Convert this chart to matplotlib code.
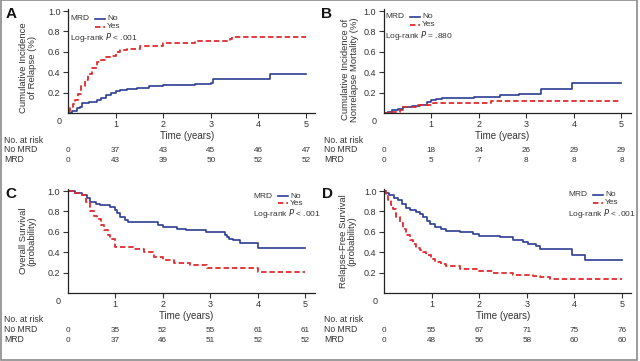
import matplotlib
matplotlib.use("Agg")
import matplotlib.pyplot as plt
from matplotlib.lines import Line2D
from matplotlib.patches import Rectangle
import matplotlib.transforms as mtransforms

plt.rcParams['font.family'] = ['Liberation Sans Narrow', 'Liberation Sans', 'DejaVu Sans']
plt.rcParams['mathtext.fontset'] = 'custom'
plt.rcParams['mathtext.it'] = 'Liberation Sans Narrow:italic'
plt.rcParams['mathtext.rm'] = 'Liberation Sans Narrow'

# ---- data ----
years = [0, 1, 2, 3, 4, 5]

A_no_t = [0, 0.08, 0.18, 0.25, 0.29, 0.45, 0.6, 0.7, 0.8, 0.9, 1.0, 1.1, 1.25, 1.45, 1.7, 2.0, 2.67, 3.0, 3.05, 4.25, 5.0]
A_no_y = [0, 0.02, 0.05, 0.06, 0.10, 0.11, 0.13, 0.15, 0.18, 0.20, 0.22, 0.23, 0.24, 0.25, 0.26, 0.27, 0.28, 0.29, 0.33, 0.38, 0.38]
A_yes_t = [0, 0.05, 0.1, 0.14, 0.2, 0.28, 0.35, 0.42, 0.5, 0.6, 0.7, 0.8, 0.88, 1.0, 1.1, 1.25, 1.52, 2.0, 2.67, 3.0, 3.4, 3.45, 5.0]
A_yes_y = [0.02, 0.05, 0.09, 0.13, 0.19, 0.26, 0.32, 0.38, 0.44, 0.50, 0.52, 0.55, 0.56, 0.60, 0.62, 0.63, 0.66, 0.69, 0.71, 0.71, 0.73, 0.75, 0.75]

B_no_t = [0, 0.1, 0.18, 0.3, 0.42, 0.6, 0.77, 0.91, 1.0, 1.1, 1.23, 1.9, 2.45, 2.85, 3.3, 3.97, 5.0]
B_no_y = [0, 0.01, 0.03, 0.04, 0.06, 0.07, 0.08, 0.11, 0.13, 0.14, 0.15, 0.16, 0.18, 0.19, 0.24, 0.295, 0.295]
B_yes_t = [0, 0.1, 0.35, 0.42, 0.7, 1.05, 2.25, 5.0]
B_yes_y = [0, 0.01, 0.03, 0.06, 0.08, 0.10, 0.12, 0.12]

C_no_t = [0, 0.15, 0.3, 0.4, 0.48, 0.6, 0.69, 0.9, 1.0, 1.05, 1.11, 1.2, 1.28, 1.9, 2.0, 2.3, 2.5, 2.9, 3.3, 3.35, 3.4, 3.48, 3.62, 4.0, 5.0]
C_no_y = [1.0, 0.98, 0.96, 0.93, 0.89, 0.87, 0.86, 0.84, 0.81, 0.78, 0.75, 0.72, 0.70, 0.67, 0.65, 0.63, 0.615, 0.60, 0.57, 0.55, 0.53, 0.515, 0.49, 0.44, 0.44]
C_yes_t = [0, 0.15, 0.3, 0.38, 0.48, 0.55, 0.62, 0.7, 0.76, 0.85, 0.9, 1.0, 1.39, 1.6, 1.81, 2.0, 2.23, 2.58, 2.93, 4.0, 5.0]
C_yes_y = [1.0, 0.98, 0.96, 0.89, 0.80, 0.76, 0.73, 0.67, 0.615, 0.57, 0.53, 0.45, 0.43, 0.40, 0.35, 0.32, 0.29, 0.27, 0.25, 0.21, 0.21]

D_no_t = [0, 0.05, 0.1, 0.2, 0.29, 0.38, 0.47, 0.55, 0.68, 0.75, 0.82, 0.9, 0.96, 1.07, 1.2, 1.31, 1.59, 1.87, 2.0, 2.44, 2.72, 2.93, 3.03, 3.2, 3.28, 3.95, 4.22, 5.0]
D_no_y = [1.0, 0.98, 0.96, 0.93, 0.91, 0.87, 0.83, 0.81, 0.79, 0.77, 0.75, 0.71, 0.68, 0.645, 0.63, 0.61, 0.60, 0.58, 0.56, 0.55, 0.52, 0.50, 0.48, 0.46, 0.43, 0.37, 0.32, 0.32]
D_yes_t = [0, 0.04, 0.08, 0.14, 0.19, 0.26, 0.33, 0.4, 0.47, 0.54, 0.61, 0.68, 0.75, 0.82, 0.89, 0.98, 1.07, 1.2, 1.31, 1.59, 2.0, 2.3, 2.72, 3.14, 3.28, 3.49, 5.0]
D_yes_y = [1.0, 0.96, 0.91, 0.86, 0.82, 0.75, 0.69, 0.63, 0.57, 0.52, 0.48, 0.44, 0.42, 0.40, 0.37, 0.33, 0.30, 0.28, 0.26, 0.24, 0.22, 0.20, 0.18, 0.17, 0.16, 0.14, 0.14]

A_risk_no = [0, 37, 43, 45, 46, 47]
A_risk_mrd = [0, 43, 39, 50, 52, 52]
B_risk_no = [0, 18, 24, 26, 29, 29]
B_risk_mrd = [0, 5, 7, 8, 8, 8]
C_risk_no = [0, 35, 52, 55, 61, 61]
C_risk_mrd = [0, 37, 46, 51, 52, 52]
D_risk_no = [0, 55, 67, 71, 75, 76]
D_risk_mrd = [0, 48, 56, 58, 60, 60]

ylabels = ["Cumulative Incidence\nof Relapse (%)",
           "Cumulative Incidence of\nNonrelapse Mortality (%)",
           "Overall Survival\n(probability)",
           "Relapse-Free Survival\n(probability)"]
pvals = ["< .001", "= .880", "< .001", "< .001"]
letters = ["A", "B", "C", "D"]

BLUE = "#2c3e92"
RED = "#e02a2e"
TXT = "#333333"
W, H = 640, 361

fig = plt.figure(figsize=(6.4, 3.61), dpi=100)

def fx(px):
    return px / W

def fy(py):
    return 1 - py / H

# axes boxes in pixels: left edge, x-axis row
AX_W = 247
AX_H = 104
boxes = [(68, 113), (383.5, 113), (67.5, 293), (384, 293)]
curves = [(A_no_t, A_no_y, A_yes_t, A_yes_y), (B_no_t, B_no_y, B_yes_t, B_yes_y),
          (C_no_t, C_no_y, C_yes_t, C_yes_y), (D_no_t, D_no_y, D_yes_t, D_yes_y)]
risks = [(A_risk_no, A_risk_mrd), (B_risk_no, B_risk_mrd),
         (C_risk_no, C_risk_mrd), (D_risk_no, D_risk_mrd)]
ylab_x = [-0.125, -0.10, -0.125, -0.11]
ylab_y = [0.44, 0.42, 0.5, 0.5]
# legend anchor (pixel x of "MRD", pixel y of first row)
legend_pos = [(70, 19), (385, 17), (253, 196), (568, 195)]

for i in range(4):
    left, base = boxes[i]
    ax = fig.add_axes([fx(left), fy(base), AX_W / W, AX_H / H])
    nt, ny, yt, yy = curves[i]
    ax.plot(nt, ny, drawstyle='steps-post', color=BLUE, lw=1.2)
    ax.plot(yt, yy, drawstyle='steps-post', color=RED, lw=1.3, dashes=(3, 1.6))
    ax.set_xlim(0, 5.19)
    ax.set_ylim(0, 1.02)
    ax.set_xticks([1, 2, 3, 4, 5])
    ax.set_yticks([0.2, 0.4, 0.6, 0.8, 1.0])
    ax.set_yticklabels(["0.2", "0.4", "0.6", "0.8", "1.0"])
    ax.tick_params(labelsize=6.5, colors=TXT, length=3.5, width=0.8, pad=2)
    ax.tick_params(axis='x', pad=1.5)
    for s in ['top', 'right']:
        ax.spines[s].set_visible(False)
    for s in ['left', 'bottom']:
        ax.spines[s].set_linewidth(0.9)
        ax.spines[s].set_color("#222222")
    ax.annotate("0", xy=(0, 0), xycoords='data', xytext=(-6.5, -6.3),
                textcoords='offset points', ha='center', va='center',
                fontsize=6.5, color=TXT)
    ax.set_ylabel(ylabels[i], fontsize=6.8, color=TXT, linespacing=1.0)
    ax.yaxis.set_label_coords(ylab_x[i], ylab_y[i])
    trans = mtransforms.blended_transform_factory(ax.transData, ax.transAxes)
    ax.text(2.5, -0.225, "Time (years)", transform=trans, ha='center', va='center',
            fontsize=7, color=TXT)
    r_no, r_mrd = risks[i]
    for x, a, b in zip(years, r_no, r_mrd):
        ax.text(x, -0.365, str(a), transform=trans, ha='center', va='center',
                fontsize=5.9, color=TXT)
        ax.text(x, -0.46, str(b), transform=trans, ha='center', va='center',
                fontsize=5.9, color=TXT)
    rowx = 4 if i % 2 == 0 else 324
    for dy, lab in zip([27, 37, 47], ["No. at risk", "No MRD", "MRD"]):
        fig.text(fx(rowx), fy(base + dy), lab, ha='left', va='center',
                 fontsize=6.2, color=TXT)
    # panel letter
    fig.text(fx(left - 62), fy(base - 99), letters[i], ha='left', va='center',
             fontsize=11, fontweight='bold', family='Liberation Sans', color="#111111")
    # legend
    lx, ly = legend_pos[i]
    fig.text(fx(lx), fy(ly), "MRD", ha='left', va='center', fontsize=6, color=TXT)
    fig.add_artist(Line2D([fx(lx + 25), fx(lx + 35)], [fy(ly), fy(ly)], color=BLUE, lw=1.2))
    fig.add_artist(Line2D([fx(lx + 25), fx(lx + 35)], [fy(ly + 7.5), fy(ly + 7.5)],
                          color=RED, lw=1.3, dashes=(3, 1.6)))
    fig.text(fx(lx + 37), fy(ly), "No", ha='left', va='center', fontsize=6, color=TXT)
    fig.text(fx(lx + 37), fy(ly + 7.5), "Yes", ha='left', va='center', fontsize=6, color=TXT)
    fig.text(fx(lx), fy(ly + 18), "Log-rank $P$ " + pvals[i], ha='left', va='center',
             fontsize=6, color=TXT)

# outer frame
fig.add_artist(Rectangle((0.002, 0.004), 0.994, 0.995, transform=fig.transFigure,
                         fill=False, edgecolor="#8a8a8a", lw=1.2))

fig.savefig("out.png", dpi=100)
